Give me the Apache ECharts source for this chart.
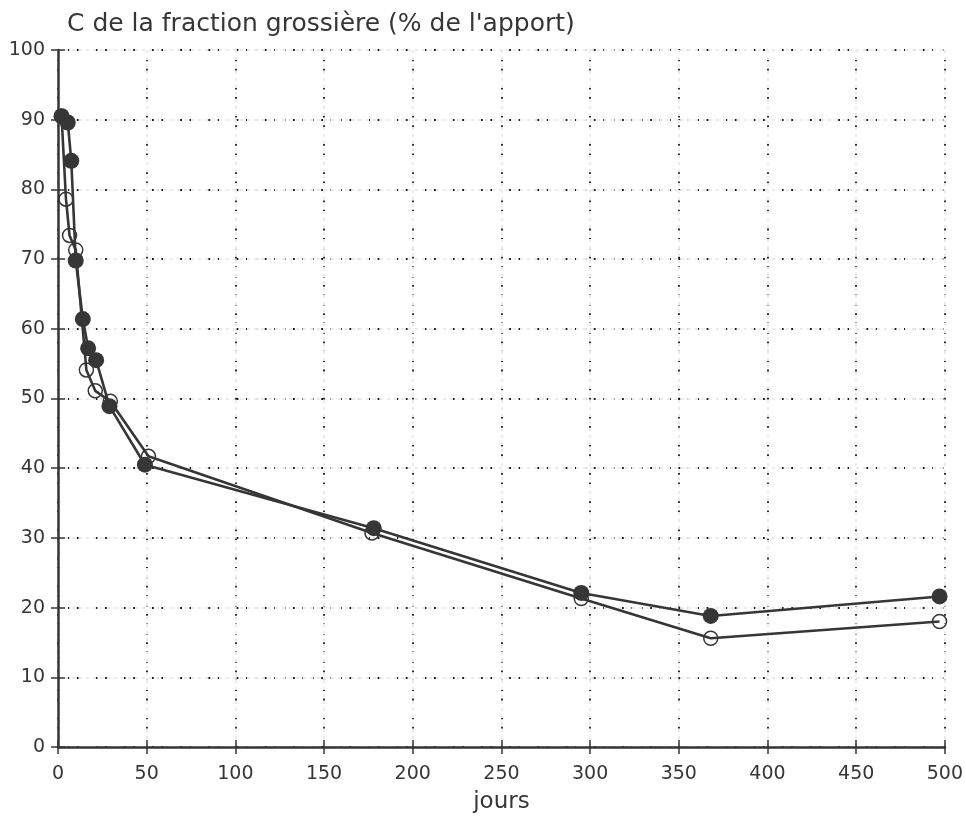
<!DOCTYPE html>
<html>
<head>
<meta charset="utf-8">
<script src="https://cdn.jsdelivr.net/npm/echarts@6/dist/echarts.min.js"></script>
<style>
  html, body { margin: 0; padding: 0; background: #fff; }
  #chart { width: 966px; height: 823px; }
</style>
</head>
<body>
<div id="chart"></div>
<script>
// Carbone de la fraction grossière restant au cours du temps (jours)
const xTicks = [0, 50, 100, 150, 200, 250, 300, 350, 400, 450, 500];
const yTicks = [0, 10, 20, 30, 40, 50, 60, 70, 80, 90, 100];

// Traitement 1 (symboles pleins)
const joursPlein = [2, 5.5, 7.5, 10, 14, 17, 21.5, 29, 49, 178, 295, 368, 497];
const cPlein     = [90.5, 89.6, 84.1, 69.8, 61.4, 57.2, 55.5, 48.9, 40.5, 31.4, 22.1, 18.8, 21.6];

// Traitement 2 (symboles vides)
const joursVide = [2, 4.5, 6.5, 10, 16, 21, 29.5, 51, 177, 295, 368, 497];
const cVide     = [90.5, 78.6, 73.4, 71.3, 54.1, 51.1, 49.6, 41.7, 30.7, 21.3, 15.6, 18.0];

const ink = '#363636';
const font = 'DejaVu Sans';

const pairs = (xs, ys) => xs.map((x, i) => [x, ys[i]]);

const chart = echarts.init(document.getElementById('chart'));
chart.setOption({
  backgroundColor: '#fff',
  animation: false,
  title: {
    text: "C de la fraction grossière (% de l'apport)",
    left: 62,
    top: 7,
    textStyle: { fontFamily: font, fontSize: 25, fontWeight: 'normal', color: ink }
  },
  grid: { left: 58, right: 18, top: 50, bottom: 76 },
  xAxis: [
    {
      type: 'value', min: xTicks[0], max: xTicks[xTicks.length - 1], interval: 50,
      name: 'jours', nameLocation: 'middle', nameGap: 44,
      nameTextStyle: { fontFamily: font, fontSize: 23, color: ink },
      axisLine: { show: true, onZero: false, lineStyle: { color: ink, width: 2.5 } },
      axisTick: { show: true, length: 7, lineStyle: { color: ink, width: 1.5 } },
      axisLabel: { margin: 18, fontFamily: font, fontSize: 19, color: ink },
      splitLine: { show: true, lineStyle: { color: '#1a1a1a', width: 1.8, type: [1.8, 7.6] } }
    },
    {
      type: 'value', min: xTicks[0], max: xTicks[xTicks.length - 1], interval: 50,
      position: 'bottom',
      axisLine: { show: false },
      axisTick: { show: true, inside: true, length: 7, lineStyle: { color: ink, width: 1.5 } },
      axisLabel: { show: false },
      splitLine: { show: true, lineStyle: { color: '#ebebeb', width: 2, type: [3, 4] } }
    }
  ],
  yAxis: [
    {
      type: 'value', min: yTicks[0], max: yTicks[yTicks.length - 1], interval: 10,
      axisLine: { show: true, onZero: false, lineStyle: { color: ink, width: 2.5 } },
      axisTick: { show: true, length: 7, lineStyle: { color: ink, width: 1.5 } },
      axisLabel: { margin: 13, fontFamily: font, fontSize: 19, color: ink },
      splitLine: { show: true, lineStyle: { color: '#1a1a1a', width: 1.8, type: [1.8, 7.6] } }
    },
    {
      type: 'value', min: yTicks[0], max: yTicks[yTicks.length - 1], interval: 10,
      position: 'left',
      axisLine: { show: false },
      axisTick: { show: true, inside: true, length: 7, lineStyle: { color: ink, width: 1.5 } },
      axisLabel: { show: false },
      splitLine: { show: true, lineStyle: { color: '#ebebeb', width: 2, type: [3, 4] } }
    }
  ],
  series: [
    {
      name: 'vide',
      type: 'line',
      data: pairs(joursVide, cVide),
      symbol: 'circle',
      symbolSize: 14,
      z: 3,
      lineStyle: { color: ink, width: 2.6 },
      itemStyle: { color: 'rgba(255,255,255,0)', borderColor: ink, borderWidth: 1.5 }
    },
    {
      name: 'plein',
      type: 'line',
      data: pairs(joursPlein, cPlein),
      symbol: 'circle',
      symbolSize: 16,
      z: 4,
      lineStyle: { color: ink, width: 2.6 },
      itemStyle: { color: ink, borderColor: ink, borderWidth: 0 }
    }
  ]
});
</script>
</body>
</html>
